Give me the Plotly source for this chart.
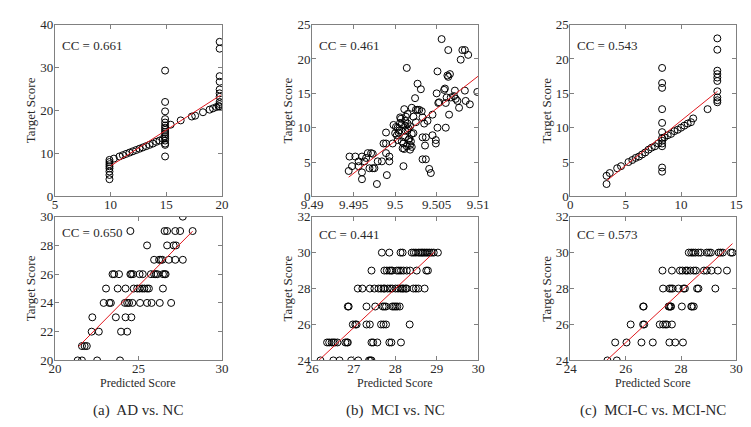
import plotly.graph_objects as go

# ---------------- data ----------------
# (a) top: AD vs NC  (predicted vs target)
a1_x = [9.9, 9.9, 9.9, 9.9, 9.9, 9.9, 9.9, 9.9,
        10.3, 10.8, 11.1, 11.4, 11.7, 12.0, 12.3, 12.6, 12.9, 13.2, 13.5, 13.8, 14.1, 14.4, 14.7,
        14.9, 14.9, 14.9, 14.9, 14.9, 14.9, 14.9, 14.9, 14.9, 14.9, 14.9, 14.9, 14.9, 14.9, 14.9, 14.9, 15.4,
        16.3, 17.3, 17.6, 18.3, 18.9, 19.2, 19.5, 19.7,
        19.8, 19.8, 19.8, 19.8, 19.8, 19.8, 19.8, 19.8, 19.8, 19.8]
a1_y = [8.5, 8.0, 7.5, 7.0, 6.5, 5.8, 5.0, 4.0,
        8.8, 9.3, 9.6, 9.9, 10.2, 10.5, 10.8, 11.1, 11.4, 11.7, 12.0, 12.3, 12.7, 13.0, 13.4,
        29.3, 22.0, 19.8, 18.0, 17.2, 16.5, 16.0, 15.5, 15.0, 14.5, 14.0, 13.5, 13.0, 12.3, 12.0, 9.3, 16.7,
        17.7, 18.6, 18.8, 19.6, 20.2, 20.5, 20.8, 21.0,
        36.0, 34.4, 28.0, 26.7, 24.9, 24.0, 23.2, 22.0, 21.5, 21.0]
a1_fit_x = [10.0, 19.9]
a1_fit_y = [7.1, 23.6]

# (b) top: MCI vs NC
b1_x = [9.4945, 9.4952, 9.4956, 9.4960, 9.4948, 9.4956, 9.4944, 9.4960, 9.4963, 9.4965,
        9.4967, 9.4971, 9.4973, 9.4969, 9.4973, 9.4975, 9.4960, 9.4978, 9.4979, 9.4984,
        9.4989, 9.4986, 9.4989, 9.4989, 9.4990, 9.4993, 9.4993, 9.4997, 9.4998, 9.5003,
        9.5005, 9.5006, 9.5007, 9.5010, 9.5010, 9.5012, 9.5012, 9.5012, 9.5012, 9.5013,
        9.5014, 9.5015, 9.5015, 9.5016, 9.5017, 9.5018, 9.5020, 9.5018, 9.5020, 9.5020,
        9.5022, 9.5025, 9.5027, 9.5031, 9.5024, 9.5029, 9.5032, 9.5033, 9.5035, 9.5033,
        9.5037, 9.5033, 9.5037, 9.5036, 9.5039, 9.5041, 9.5043, 9.5045, 9.5045, 9.5049,
        9.5049, 9.5051, 9.5051, 9.5052, 9.5050, 9.5053, 9.5056, 9.5059, 9.5060, 9.5061,
        9.5062, 9.5061, 9.5064, 9.5065, 9.5066, 9.5063, 9.5064, 9.5067, 9.5071, 9.5072,
        9.5073, 9.5075, 9.5077, 9.5079, 9.5081, 9.5084, 9.5085, 9.5088, 9.5084, 9.5090,
        9.5099, 9.5002, 9.5004, 9.5008, 9.5009, 9.5011, 9.5014, 9.5016, 9.5006, 9.5003,
        9.5000, 9.5008, 9.5018, 9.5022, 9.5025, 9.5027, 9.5001, 9.5011, 9.5015, 9.5019]
b1_y = [5.8, 5.8, 5.1, 5.8, 4.4, 4.4, 3.7, 3.5, 5.1, 5.6,
        6.3, 6.3, 6.2, 4.1, 4.1, 4.1, 2.5, 1.8, 5.1, 5.1,
        6.3, 7.7, 7.7, 9.3, 3.1, 5.8, 5.1, 7.7, 10.4, 10.0,
        9.6, 10.7, 11.3, 4.4, 7.7, 8.6, 9.6, 10.3, 11.0, 11.6,
        18.7, 12.0, 10.6, 9.9, 8.4, 7.5, 7.2, 6.8, 12.9, 9.1,
        11.6, 12.6, 16.4, 15.6, 14.3, 12.6, 12.4, 11.5, 10.6, 8.6,
        8.6, 5.4, 5.4, 7.4, 11.0, 4.0, 3.4, 11.9, 8.9, 8.2,
        7.7, 10.0, 18.2, 13.6, 15.0, 13.7, 22.9, 15.5, 15.7, 10.0,
        14.4, 13.6, 21.3, 11.9, 17.8, 17.6, 17.4, 14.4, 14.6, 15.4,
        14.2, 13.9, 12.9, 19.9, 21.3, 21.3, 13.9, 20.6, 15.4, 13.4,
        15.2, 8.9, 9.3, 8.0, 7.0, 6.9, 7.3, 8.2, 11.5, 8.2,
        9.2, 10.5, 10.2, 9.2, 10.8, 12.6, 10.1, 12.7, 9.6, 8.0]
b1_fit_x = [9.4944, 9.5100]
b1_fit_y = [2.8, 17.5]

# (c) top: MCI-C vs MCI-NC
c1_x = [3.27, 3.27, 3.56, 4.23, 4.58, 5.25, 5.6, 5.9, 6.2, 6.48, 6.77, 7.06, 7.35, 7.65, 7.94,
        8.29, 8.29, 8.29, 8.29, 8.29, 8.29, 8.29, 8.29, 8.29, 8.29, 8.29, 8.29,
        8.5, 8.8, 9.1, 9.4, 9.7, 10.0, 10.3, 10.6, 10.9, 11.1, 12.4,
        13.28, 13.28, 13.28, 13.28, 13.28, 13.28, 13.28, 13.28, 13.28, 13.28]
c1_y = [1.8, 3.0, 3.4, 4.1, 4.4, 5.0, 5.3, 5.6, 5.8, 6.1, 6.4, 6.8, 7.1, 7.3, 7.7,
        18.7, 16.5, 15.8, 12.7, 10.7, 9.35, 8.5, 8.1, 7.7, 7.3, 4.2, 3.6,
        8.6, 8.9, 9.1, 9.5, 9.7, 10.0, 10.3, 10.6, 10.8, 11.35, 12.7,
        23.0, 21.35, 18.3, 17.8, 17.3, 16.8, 15.3, 14.4, 14.0, 13.7]
c1_fit_x = [3.3, 13.3]
c1_fit_y = [2.3, 15.3]

# (a) bottom
a2_x = [21.36, 21.62, 22.53, 23.9,
        21.62, 21.78, 21.91,
        22.2, 22.63, 23.96, 24.33,
        22.24, 23.65, 24.23, 24.58,
        22.92, 23.26, 23.35, 24.19, 24.33, 24.44, 24.64, 25.1, 25.52, 25.79, 26.28, 26.96,
        23.06, 23.76, 24.23, 24.72, 24.93, 25.07, 25.23, 25.36, 25.52, 25.63, 26.47,
        23.45, 23.55, 23.84, 24.52, 24.58, 24.68, 25.07, 25.26, 25.75, 25.94, 26.04, 26.14, 26.47, 26.57, 26.63,
        25.94, 26.24, 26.34, 26.43, 26.82, 27.21, 27.66,
        25.52, 26.72, 27.11, 27.25,
        24.52, 26.57, 26.72, 27.21, 27.5, 28.25,
        27.66]
a2_y = [20, 20, 20, 20,
        21, 21, 21,
        22, 22, 22, 22,
        23, 23, 23, 23,
        24, 24, 24, 24, 24, 24, 24, 24, 24, 24, 24, 24,
        25, 25, 25, 25, 25, 25, 25, 25, 25, 25, 25,
        26, 26, 26, 26, 26, 26, 26, 26, 26, 26, 26, 26, 26, 26, 26,
        27, 27, 27, 27, 27, 27, 27,
        28, 28, 28, 28,
        29, 29, 29, 29, 29, 29,
        30]
a2_fit_x = [21.42, 28.25]
a2_fit_y = [20.97, 28.99]

# (b) bottom
b2_x = [26.2, 26.51, 26.66, 26.94, 27.11, 27.37, 27.4, 27.43,
        26.36, 26.41, 26.47, 26.51, 26.55, 26.61, 26.8, 26.84, 26.86, 27.43, 27.47, 27.57, 27.86, 27.91, 28.14,
        26.98, 27.04, 27.07, 27.31, 27.39, 27.66, 27.72, 27.78, 28.35,
        26.86, 26.88, 27.31, 27.52, 27.7, 27.74, 27.78, 27.93, 27.97, 28.01, 28.05, 28.11,
        27.1, 27.21, 27.39, 27.5, 27.6, 27.66, 27.72, 27.75, 27.82, 27.88, 27.93, 28.01, 28.07, 28.13, 28.17, 28.2, 28.25, 28.28, 28.44, 28.5, 28.56, 28.71,
        27.43, 27.74, 27.8, 27.86, 27.9, 27.93, 28.04, 28.09, 28.14, 28.2, 28.28, 28.36, 28.52, 28.75, 28.79,
        27.68, 27.86, 28.13, 28.18, 28.4, 28.45, 28.5, 28.56, 28.6, 28.64, 28.67, 28.71, 28.75, 28.79, 28.83, 28.88, 28.93, 29.03]
b2_y = [24] * 8 + [25] * 15 + [26] * 9 + [27] * 12 + [28] * 22 + [29] * 15 + [30] * 18
b2_fit_x = [26.14, 28.95]
b2_fit_y = [23.96, 30.04]

# (c) bottom
c2_x = [25.34, 25.68,
        25.62, 26.03, 26.57, 26.98, 27.58, 27.79, 28.07,
        26.18, 26.63, 26.67, 27.23, 27.35, 27.43, 27.49, 27.67,
        26.63, 26.65, 27.55, 27.58, 27.62, 27.64, 28.03, 28.37, 28.4, 28.46,
        27.35, 27.58, 27.64, 27.7, 27.91, 28.09, 28.14, 28.58, 28.63, 29.24,
        27.33, 27.67, 27.96, 28.05, 28.17, 28.23, 28.34, 28.46, 28.54, 28.83, 28.93, 29.1, 29.33, 29.66,
        28.28, 28.37, 28.44, 28.52, 28.63, 28.72, 28.93, 29.01, 29.08, 29.36, 29.43, 29.51, 29.8, 29.86]
c2_y = [24] * 2 + [25] * 7 + [26] * 8 + [27] * 10 + [28] * 10 + [29] * 14 + [30] * 14
c2_fit_x = [25.31, 29.86]
c2_fit_y = [24.0, 30.5]

cc_labels = ["CC = 0.661", "CC = 0.461", "CC = 0.543", "CC = 0.650", "CC = 0.441", "CC = 0.573"]
captions = ["(a)  AD vs. NC", "(b)  MCI vs. NC", "(c)  MCI-C vs. MCI-NC"]

x_ranges = [[5, 20], [9.49, 9.51], [0, 15], [20, 30], [26, 30], [24, 30]]
y_ranges = [[0, 40], [0, 25], [0, 25], [20, 30], [24, 32], [24, 32]]
x_dticks = [5, 0.005, 5, 5, 1, 2]
y_dticks = [10, 5, 5, 2, 2, 2]

panels = [(a1_x, a1_y, a1_fit_x, a1_fit_y), (b1_x, b1_y, b1_fit_x, b1_fit_y),
          (c1_x, c1_y, c1_fit_x, c1_fit_y), (a2_x, a2_y, a2_fit_x, a2_fit_y),
          (b2_x, b2_y, b2_fit_x, b2_fit_y), (c2_x, c2_y, c2_fit_x, c2_fit_y)]

# ---------------- layout geometry (pixels) ----------------
W, H = 751, 427
col_px = [(37, 209), (302, 473), (568, 739)]
row_px = [(10, 188), (209, 358)]  # top, bottom in pixels from top
cc_dy = [22, 22, 22, 16, 19, 19]

FONT = "'Liberation Serif', 'Times New Roman', Times, serif"
TXT = "#2a2a2a"
fig = go.Figure()
layout = dict(width=W, height=H, margin=dict(l=0, r=0, t=0, b=0),
              paper_bgcolor="white", plot_bgcolor="white", showlegend=False,
              font=dict(family=FONT, size=13, color=TXT))
annotations = []

for i, (px, py, fx, fy) in enumerate(panels):
    r, c = divmod(i, 3)
    n = i + 1
    xa = "x" if n == 1 else f"x{n}"
    ya = "y" if n == 1 else f"y{n}"
    fig.add_trace(go.Scatter(x=px, y=py, mode="markers", xaxis=xa, yaxis=ya,
                             marker=dict(symbol="circle-open", size=7, color="black",
                                         line=dict(width=1, color="black"))))
    fig.add_trace(go.Scatter(x=fx, y=fy, mode="lines", xaxis=xa, yaxis=ya,
                             line=dict(color="#e0191e", width=1)))
    x0, x1 = col_px[c]
    y0, y1 = row_px[r]
    axcommon = dict(showgrid=False, zeroline=False, showline=True, linecolor="#808080",
                    linewidth=1, mirror="ticks", ticks="inside", ticklen=4,
                    tickcolor="#808080", tickfont=dict(family=FONT, size=13, color=TXT))
    layout["xaxis" if n == 1 else f"xaxis{n}"] = dict(
        domain=[x0 / W, x1 / W], range=x_ranges[i], dtick=x_dticks[i], tick0=x_ranges[i][0],
        anchor=ya, ticklabelstandoff=-4, **axcommon)
    layout["yaxis" if n == 1 else f"yaxis{n}"] = dict(
        domain=[1 - y1 / H, 1 - y0 / H], range=y_ranges[i], dtick=y_dticks[i], tick0=y_ranges[i][0],
        anchor=xa, ticklabelstandoff=-2, **axcommon)
    annotations.append(dict(text=cc_labels[i], xref=f"{xa} domain", yref=f"{ya} domain",
                            x=5 / (x1 - x0), y=1 - cc_dy[i] / (y1 - y0), xanchor="left",
                            yanchor="middle", showarrow=False,
                            font=dict(family=FONT, size=13, color=TXT)))
    # y title
    annotations.append(dict(text="Target Score", xref="paper", yref="paper",
                            x=(x0 - 25) / W, y=1 - (y0 + y1) / 2 / H, textangle=-90,
                            xanchor="center", yanchor="middle", showarrow=False,
                            font=dict(family=FONT, size=13, color=TXT)))
    if r == 1:
        annotations.append(dict(text="Predicted Score", xref="paper", yref="paper",
                                x=(x0 + x1) / 2 / W, y=1 - 381 / H, xanchor="center",
                                yanchor="middle", showarrow=False,
                                font=dict(family=FONT, size=12, color=TXT)))
        annotations.append(dict(text=captions[c], xref="paper", yref="paper",
                                x=(x0 + x1) / 2 / W, y=1 - 410 / H, xanchor="center",
                                yanchor="middle", showarrow=False,
                                font=dict(family=FONT, size=15, color=TXT)))

layout["annotations"] = annotations
fig.update_layout(**layout)
fig.write_html("out.html")
